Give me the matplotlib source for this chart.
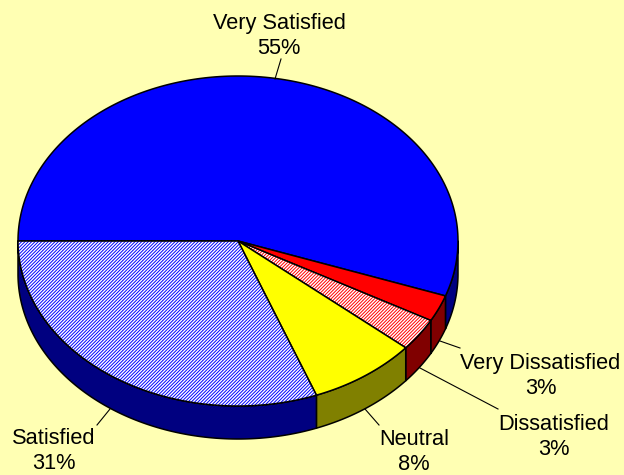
import numpy as np
import matplotlib.pyplot as plt
from matplotlib.patches import Polygon

categories = ["Very Satisfied", "Very Dissatisfied", "Dissatisfied", "Neutral", "Satisfied"]
shares = [55.4, 2.6, 3.2, 8.0, 30.8]
top_colors = ["#0000ff", "#ff0000", "#ff0000", "#ffff00", "#0000ff"]
wall_colors = ["#000080", "#800000", "#800000", "#808000", "#000080"]
hatched = [False, False, True, False, True]

# layout in pixels
CX, CY, RX, RY, DEPTH = 238, 241, 220, 165, 33
BG = "#ffffb3"
label_pos = [(279, 36), (540.5, 376), (554, 437), (414, 452), (53.5, 451)]
leaders = [
    ((281, 59), (275, 79)),
    ((440, 341), (460, 348)),
    ((420, 368), (498, 409)),
    ((365, 409), (379, 425)),
    ((110, 409), (97, 425)),
]

plt.rcParams["font.family"] = ["Liberation Sans", "DejaVu Sans"]
plt.rcParams["hatch.linewidth"] = 0.7

fig = plt.figure(figsize=(6.24, 4.75), dpi=100, facecolor=BG)
ax = fig.add_axes([0, 0, 1, 1])
ax.set_xlim(0, 624)
ax.set_ylim(475, 0)
ax.axis("off")


def arc(a0, a1):
    t = np.radians(np.linspace(a0, a1, 200))
    return np.column_stack((CX + RX * np.cos(t), CY - RY * np.sin(t)))


# slices run clockwise from the left edge of the ellipse
edges = 180 - 3.6 * np.cumsum([0] + shares)

# walls, only the front half of the ellipse shows
for i, color in enumerate(wall_colors):
    a0, a1 = edges[i], edges[i + 1]
    if i == 0:
        a0 = 0
    upper = arc(a0, a1)
    lower = upper + [0, DEPTH]
    ax.add_patch(Polygon(np.vstack((upper, lower[::-1])), closed=True, facecolor=color,
                         edgecolor="black", linewidth=1.1, joinstyle="round"))

# top faces
for i, color in enumerate(top_colors):
    pts = np.vstack(([CX, CY], arc(edges[i], edges[i + 1])))
    if hatched[i]:
        ax.add_patch(Polygon(pts, closed=True, facecolor="white", edgecolor=color,
                             hatch="/" * 10, linewidth=0))
        ax.add_patch(Polygon(pts, closed=True, facecolor="none", edgecolor="black",
                             linewidth=1.1))
    else:
        ax.add_patch(Polygon(pts, closed=True, facecolor=color, edgecolor="black",
                             linewidth=1.1))

for (p0, p1) in leaders:
    ax.plot([p0[0], p1[0]], [p0[1], p1[1]], color="black", linewidth=0.8)

for name, share, pos in zip(categories, shares, label_pos):
    ax.text(pos[0], pos[1], f"{name}\n{round(share)}%", ha="center", va="center",
            fontsize=15.7, linespacing=1.26, color="black")

fig.savefig("out.png", dpi=100, facecolor=BG)
plt.close(fig)
